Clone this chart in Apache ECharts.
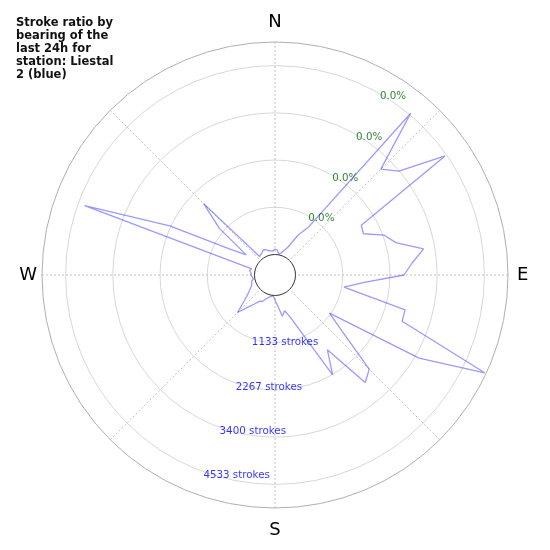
<!DOCTYPE html>
<html>
<head>
<meta charset="utf-8">
<script src="https://cdn.jsdelivr.net/npm/echarts@6/dist/echarts.min.js"></script>
<style>
    html, body { margin: 0; padding: 0; background: #fff; }
    #chart { width: 550px; height: 550px; }
</style>
</head>
<body>
<div id="chart"></div>
<script>
// bearing (deg, clockwise from north) of each 5 degree bin
var bearings = [0, 5, 10, 15, 20, 25, 30, 35, 40, 45, 50, 55,
    60, 65, 70, 75, 80, 85, 90, 95, 100, 105, 110, 115,
    120, 125, 130, 135, 140, 145, 150, 155, 160, 165, 170, 175,
    180, 185, 190, 195, 200, 205, 210, 215, 220, 225, 230, 235,
    240, 245, 250, 255, 260, 265, 270, 275, 280, 285, 290, 295,
    300, 305, 310, 315, 320, 325, 330, 335, 340, 345, 350, 355];

// strokes per bin
var strokes = [130, 110, 25, 50, 35, 250, 610, 925, 4575, 3100, 3390, 4490,
    1900, 1850, 2300, 2510, 3130, 2810, 2605, 1630, 1190, 2740, 2755, 5060,
    3500, 1105, 1620, 2705, 2875, 1700, 2275, 1070, 590, 395, 515, 250,
    110, 10, 35, 60, 110, 205, 230, 350, 515, 780, 470, 300,
    205, 130, 155, 85, 35, 60, 85, 85, 130, 85, 4370, 2295,
    755, 350, 1250, 1930, 85, 85, 130, 170, 155, 110, 95, 85];

var ringValues = [1133.33, 2266.67, 3400, 4533.33];
var ringLabels = ['1133 strokes', '2267 strokes', '3400 strokes', '4533 strokes'];
var ratioLabels = ['0.0%', '0.0%', '0.0%', '0.0%'];
var compassAngles = [0, 90, 180, 270];
var compassNames = ['N', 'E', 'S', 'W'];

var maxStrokes = 5100;
var ringStep = 1133.3333333;
var font = 'DejaVu Sans';

var chart = echarts.init(document.getElementById('chart'), null, { renderer: 'canvas' });

var linePoints = bearings.map(function (b, i) {
    return [strokes[i], b];
});
linePoints.push([strokes[0], 360]);

function labelPoints(texts, bearing, color, offset) {
    return texts.map(function (t, i) {
        return {
            value: [ringValues[i], bearing],
            label: { show: true, formatter: t, color: color, offset: offset }
        };
    });
}

var compassStyle = { fontFamily: font, fontSize: 18, color: '#000' };

chart.setOption({
    animation: false,
    backgroundColor: '#fff',
    title: {
        text: 'Stroke ratio by\nbearing of the\nlast 24h for\nstation: Liestal\n2 (blue)',
        left: 16,
        top: 17,
        padding: 0,
        textStyle: {
            fontFamily: font,
            fontSize: 11.5,
            fontWeight: 'bold',
            lineHeight: 13,
            color: '#111'
        }
    },
    polar: {
        center: ['50%', '50%'],
        radius: [20.5, 233]
    },
    angleAxis: {
        type: 'value',
        min: 0,
        max: 360,
        interval: 45,
        startAngle: 90,
        clockwise: true,
        axisLine: { show: false },
        axisTick: { show: false },
        axisLabel: {
            margin: 4,
            formatter: function (v) {
                var i = compassAngles.indexOf(v % 360);
                return i >= 0 ? '{' + compassNames[i].toLowerCase() + '|' + compassNames[i] + '}' : '';
            },
            rich: {
                n: echarts.util.extend({ padding: [0, 0, 7, 0] }, compassStyle),
                e: echarts.util.extend({ padding: [0, 0, 0, 5] }, compassStyle),
                s: echarts.util.extend({ padding: [9, 0, 0, 0] }, compassStyle),
                w: echarts.util.extend({ padding: [0, 1, 0, 0] }, compassStyle)
            }
        },
        splitLine: {
            show: true,
            lineStyle: { color: '#b4b4b4', width: 0.8, type: [2, 2] }
        }
    },
    radiusAxis: {
        type: 'value',
        min: 0,
        max: maxStrokes,
        interval: ringStep,
        axisLine: { show: false },
        axisTick: { show: false },
        axisLabel: { show: false },
        splitLine: {
            show: true,
            lineStyle: {
                width: 1,
                color: ['#333', '#d8d8d8', '#d8d8d8', '#d8d8d8', '#d8d8d8', '#b0b0b0']
            }
        }
    },
    series: [
        {
            type: 'line',
            coordinateSystem: 'polar',
            data: linePoints,
            symbol: 'none',
            silent: true,
            lineStyle: { color: 'rgba(0, 0, 255, 0.4)', width: 1.3 }
        },
        {
            type: 'scatter',
            coordinateSystem: 'polar',
            symbolSize: 0,
            silent: true,
            label: { position: 'right', distance: 0, fontFamily: font, fontSize: 10.3 },
            data: labelPoints(ringLabels, 200, '#0000ff', [0, 4])
        },
        {
            type: 'scatter',
            coordinateSystem: 'polar',
            symbolSize: 0,
            silent: true,
            label: { position: 'right', distance: 0, fontFamily: font, fontSize: 10.3 },
            data: labelPoints(ratioLabels, 30.4, '#006600', [-1, 2])
        }
    ]
});
</script>
</body>
</html>
